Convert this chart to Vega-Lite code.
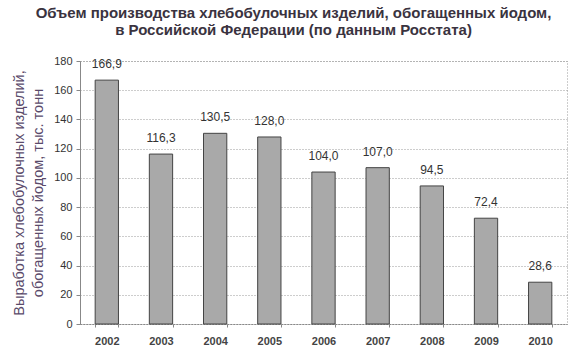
{
  "$schema": "https://vega.github.io/schema/vega-lite/v6.json",
  "width": 487,
  "height": 263,
  "autosize": {"type": "none"},
  "padding": {"left": 80, "top": 61, "right": 4, "bottom": 29},
  "background": "white",
  "title": {
    "text": ["Объем производства хлебобулочных изделий, обогащенных йодом,", "в Российской Федерации (по данным Росстата)"],
    "font": "Liberation Sans",
    "fontSize": 15,
    "fontWeight": "bold",
    "color": "#3a3340",
    "anchor": "middle",
    "frame": "group",
    "dx": -30,
    "offset": 17,
    "lineHeight": 17
  },
  "config": {
    "view": {"stroke": "#9a9a9a", "strokeDash": [1, 2], "strokeWidth": 1},
    "font": "Liberation Sans"
  },
  "data": {
    "values": [
      {"year": "2002", "value": 166.9, "label": "166,9"},
      {"year": "2003", "value": 116.3, "label": "116,3"},
      {"year": "2004", "value": 130.5, "label": "130,5"},
      {"year": "2005", "value": 128.0, "label": "128,0"},
      {"year": "2006", "value": 104.0, "label": "104,0"},
      {"year": "2007", "value": 107.0, "label": "107,0"},
      {"year": "2008", "value": 94.5, "label": "94,5"},
      {"year": "2009", "value": 72.4, "label": "72,4"},
      {"year": "2010", "value": 28.6, "label": "28,6"}
    ]
  },
  "encoding": {
    "x": {
      "field": "year",
      "type": "nominal",
      "scale": {"paddingInner": 0.57, "paddingOuter": 0.28},
      "axis": {
        "title": null,
        "labelAngle": 0,
        "labelFont": "Liberation Sans",
        "labelFontSize": 11,
        "labelFontWeight": "bold",
        "labelColor": "#444",
        "labelPadding": 8,
        "domainColor": "#888",
        "domainDash": [2, 1],
        "tickColor": "#888",
        "tickSize": 3,
        "tickBand": "extent"
      }
    },
    "y": {
      "field": "value",
      "type": "quantitative",
      "scale": {"domain": [0, 180]},
      "axis": {
        "values": [0, 20, 40, 60, 80, 100, 120, 140, 160, 180],
        "title": ["Выработка хлебобулочных изделий,", "обогащенных йодом, тыс. тонн"],
        "titleFont": "Liberation Sans",
        "titleFontSize": 14.5,
        "titleFontWeight": "normal",
        "titleColor": "#5a4a6a",
        "titlePadding": 8,
        "titleLineHeight": 19,
        "labelFont": "Liberation Sans",
        "labelFontSize": 11,
        "labelColor": "#333",
        "labelPadding": 4,
        "tickSize": 4,
        "tickColor": "#888",
        "domainColor": "#888",
        "grid": true,
        "gridColor": "#9a9a9a",
        "gridDash": [1, 2],
        "gridWidth": 1
      }
    }
  },
  "layer": [
    {
      "mark": {"type": "bar", "color": "#a9a9a9", "stroke": "#444", "strokeWidth": 1}
    },
    {
      "mark": {"type": "text", "baseline": "bottom", "dy": -9, "fontSize": 12, "font": "Liberation Sans", "color": "#333"},
      "encoding": {"text": {"field": "label"}}
    }
  ]
}
